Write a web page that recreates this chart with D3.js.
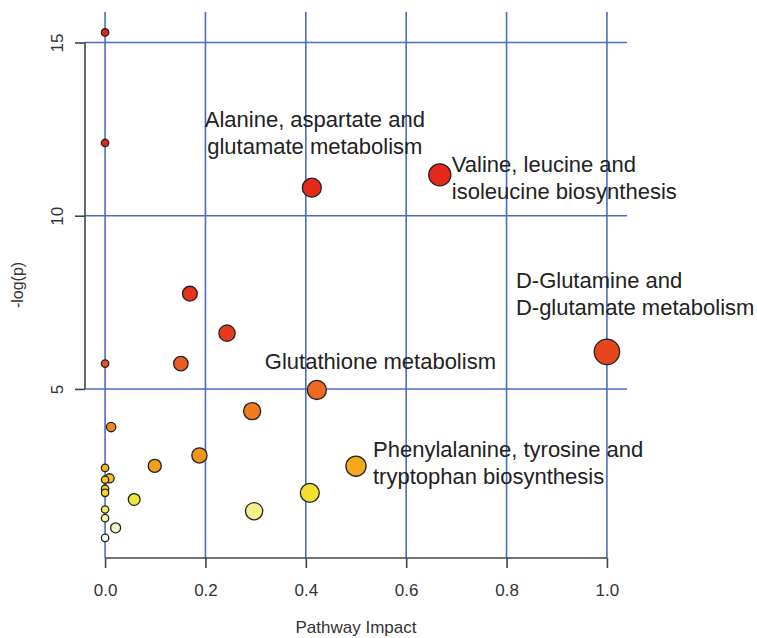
<!DOCTYPE html>
<html>
<head>
<meta charset="utf-8">
<script src="https://cdn.jsdelivr.net/npm/d3@7"></script>
<style>
  body { margin: 0; background: #fff; }
  svg { display: block; font-family: "Liberation Sans", Arial, sans-serif; }
</style>
</head>
<body>
<svg width="757" height="638"></svg>
<script>
// pathway impact (x) and -log(p) (y), one entry per pathway
const impact = [0, 0, 0.667, 0.412, 0.169, 0.243, 1.0, 0, 0.151, 0.422, 0.293, 0.012, 0.188,
  0.099, 0.5, 0, 0.009, 0, 0, 0, 0.408, 0.058, 0, 0.297, 0, 0.021, 0];
const logp = [15.29, 12.1, 11.18, 10.81, 7.75, 6.61, 6.07, 5.73, 5.73, 4.97, 4.36, 3.9, 3.08,
  2.78, 2.77, 2.72, 2.42, 2.38, 2.12, 2.0, 2.0, 1.81, 1.52, 1.47, 1.27, 0.99, 0.7];

// labelled pathways: index into the arrays above
const labelIndex = [3, 2, 6, 9, 14];
const labelLines = [
  ["Alanine, aspartate and", "glutamate metabolism"],
  ["Valine, leucine and", "isoleucine biosynthesis"],
  ["D-Glutamine and", "D-glutamate metabolism"],
  ["Glutathione metabolism"],
  ["Phenylalanine, tyrosine and", "tryptophan biosynthesis"]
];

const xTicks = [0, 0.2, 0.4, 0.6, 0.8, 1.0];
const yTicks = [5, 10, 15];

const svg = d3.select("svg");

const x = d3.scaleLinear().domain([-0.04, 1.04]).range([85, 627]);
const y = d3.scaleLinear().domain([0.12, 15.88]).range([558, 12]);
const r = d3.scaleSqrt().domain([0, 1]).range([3.7, 12.7]);

// heat-style colours by rank of -log(p)
const color = d3.scaleLinear()
  .domain([0, 3, 5, 7, 9, 11, 14, 16, 19, 21, 23, 25, 26])
  .range(["#e5231b", "#e42a1a", "#e63a1c", "#e8501c", "#ee6a20", "#f08a20", "#f4a81c",
    "#f5c020", "#f5d828", "#f0e638", "#f4f08a", "#f8f4c8", "#ffffff"])
  .interpolate(d3.interpolateRgb);

const data = impact.map((v, i) => ({ impact: v, logp: logp[i], i }));
const ranked = data.slice().sort((a, b) => b.logp - a.logp);
ranked.forEach((d, k) => d.rank = k);

const gridColor = "#4a6cc4";

// grid
svg.append("g").selectAll("line")
  .data(xTicks)
  .join("line")
  .attr("x1", d => x(d)).attr("x2", d => x(d))
  .attr("y1", y.range()[1]).attr("y2", y.range()[0])
  .attr("stroke", gridColor).attr("stroke-width", 1.6);

svg.append("g").selectAll("line")
  .data(yTicks)
  .join("line")
  .attr("x1", x.range()[0]).attr("x2", x.range()[1])
  .attr("y1", d => y(d)).attr("y2", d => y(d))
  .attr("stroke", gridColor).attr("stroke-width", 1.6);

// axes
const xAxis = svg.append("g")
  .attr("transform", `translate(0,${y.range()[0]})`)
  .call(d3.axisBottom(x).tickValues(xTicks).tickFormat(d3.format(".1f")).tickSize(10).tickPadding(16));
xAxis.select(".domain").remove();
xAxis.append("line")
  .attr("x1", x(0)).attr("x2", x(1))
  .attr("stroke", "#444").attr("stroke-width", 1.6);

const yAxis = svg.append("g")
  .attr("transform", `translate(${x.range()[0]},0)`)
  .call(d3.axisLeft(y).tickValues(yTicks).tickSize(10));
yAxis.select(".domain").remove();
yAxis.append("line")
  .attr("y1", y(5)).attr("y2", y(15))
  .attr("stroke", "#444").attr("stroke-width", 1.6);
yAxis.selectAll(".tick text")
  .attr("x", null).attr("dy", null)
  .attr("text-anchor", "middle")
  .attr("transform", "translate(-28,0) rotate(-90)")
  .attr("dy", "0.35em");

svg.selectAll(".tick line").attr("stroke", "#444").attr("stroke-width", 1.6);
svg.selectAll(".tick text")
  .attr("fill", "#333")
  .style("font-size", "17px")
  .style("font-family", "'Liberation Sans', Arial, sans-serif");

// axis titles
svg.append("text")
  .attr("x", (x(0) + x(1)) / 2)
  .attr("y", 633)
  .attr("text-anchor", "middle")
  .attr("fill", "#333")
  .style("font-size", "17px")
  .text("Pathway Impact");

svg.append("text")
  .attr("transform", `translate(23,${(y.range()[0] + y.range()[1]) / 2}) rotate(-90)`)
  .attr("text-anchor", "middle")
  .attr("fill", "#333")
  .style("font-size", "16px")
  .text("-log(p)");

// points, largest first so small ones stay visible
svg.append("g").selectAll("circle")
  .data(data.slice().sort((a, b) => b.impact - a.impact))
  .join("circle")
  .attr("cx", d => x(d.impact))
  .attr("cy", d => y(d.logp))
  .attr("r", d => r(d.impact))
  .attr("fill", d => color(d.rank))
  .attr("stroke", "#222")
  .attr("stroke-width", 1.3);

// labels (offsets from the point, in px)
const labelPlace = [
  { dx: 3, dy: -61, anchor: "middle" },
  { dx: 12, dy: -3, anchor: "start" },
  { dx: -91, dy: -64, anchor: "start" },
  { dx: -52, dy: -21, anchor: "start" },
  { dx: 17, dy: -9, anchor: "start" }
];

labelIndex.forEach((idx, k) => {
  const p = labelPlace[k];
  const t = svg.append("text")
    .attr("x", x(impact[idx]) + p.dx)
    .attr("y", y(logp[idx]) + p.dy)
    .attr("text-anchor", p.anchor)
    .attr("fill", "#222")
    .style("font-size", "22px");
  labelLines[k].forEach((line, j) => {
    t.append("tspan")
      .attr("x", x(impact[idx]) + p.dx)
      .attr("dy", j === 0 ? 0 : 27)
      .text(line);
  });
});
</script>
</body>
</html>
